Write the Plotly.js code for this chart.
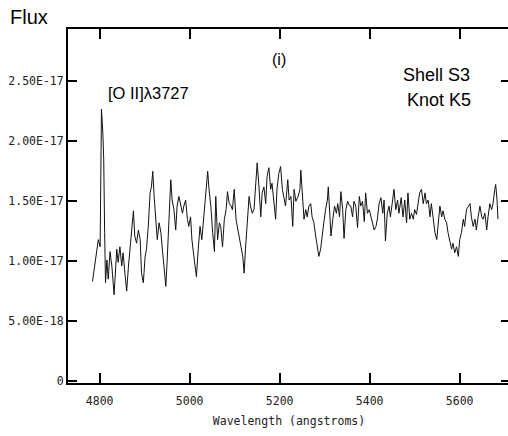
<!DOCTYPE html>
<html>
<head>
<meta charset="utf-8">
<script src="https://cdn.plot.ly/plotly-3.0.1.min.js"></script>
<style>html,body{margin:0;padding:0;overflow:hidden;background:#fff;}</style>
</head>
<body>
<div id="chart" style="width:510px;height:436px;"></div>
<script>
// Wavelength (angstroms)
const wavelength = [
4784,4788,4792,4797,4801,4804,4807,4809,4811,4813,4816,4819,4823,4827,4832,4838,4841,4845,4849,4852,
4856,4860,4864,4867,4871,4875,4878,4882,4886,4890,4893,4897,4901,4904,4908,4912,4915,4918,4921,4924,
4928,4932,4936,4940,4944,4947,4950,4954,4958,4961,4965,4969,4972,4976,4980,4984,4987,4991,4995,4998,
5002,5005,5009,5015,5019,5023,5027,5032,5036,5040,5043,5047,5051,5055,5058,5062,5066,5069,5073,5077,
5081,5084,5088,5092,5095,5099,5103,5107,5110,5114,5118,5121,5124,5128,5132,5135,5139,5143,5147,5150,
5154,5158,5161,5165,5169,5172,5176,5180,5183,5187,5191,5194,5198,5202,5206,5209,5213,5218,5221,5225,
5229,5232,5236,5241,5245,5247,5250,5254,5258,5261,5265,5269,5272,5276,5280,5283,5287,5291,5294,5298,
5302,5306,5308,5311,5314,5318,5322,5326,5329,5333,5336,5340,5343,5347,5351,5354,5358,5362,5365,5369,
5373,5377,5380,5384,5388,5391,5395,5399,5403,5406,5410,5414,5417,5421,5425,5429,5432,5435,5439,5443,
5446,5450,5454,5458,5462,5465,5470,5474,5478,5482,5485,5489,5493,5497,5500,5504,5508,5511,5515,5519,
5523,5526,5530,5534,5537,5541,5545,5549,5552,5556,5560,5563,5567,5571,5574,5578,5582,5585,5589,5593,
5597,5600,5604,5608,5611,5615,5619,5623,5626,5630,5634,5637,5641,5645,5649,5652,5656,5660,5663,5667,
5671,5674,5678,5680,5683,5685
];
// Flux in units of 1e-17
const fluxE17 = [
0.83,0.94,1.04,1.18,1.12,2.27,2.07,1.85,1.24,0.82,1.01,0.85,1.08,0.96,0.72,1.10,0.99,1.12,0.96,1.07,
0.90,0.75,0.96,1.07,1.24,1.42,1.21,1.15,1.26,1.18,0.90,0.82,1.04,1.10,1.29,1.57,1.62,1.75,1.54,1.35,
1.18,1.32,1.24,1.07,0.90,0.79,1.01,1.37,1.68,1.51,1.43,1.26,1.46,1.54,1.48,1.40,1.46,1.51,1.35,1.29,
1.37,1.18,1.05,0.87,1.10,1.29,1.18,1.40,1.54,1.75,1.60,1.46,1.24,1.08,1.54,1.18,1.32,1.29,1.12,1.35,
1.43,1.58,1.48,1.46,1.43,1.60,1.35,1.26,1.18,1.12,1.04,0.90,1.10,1.32,1.54,1.46,1.40,1.43,1.64,1.82,
1.62,1.37,1.57,1.62,1.48,1.71,1.78,1.60,1.65,1.51,1.35,1.60,1.73,1.79,1.60,1.54,1.46,1.68,1.51,1.54,
1.29,1.60,1.50,1.54,1.60,1.76,1.57,1.35,1.43,1.37,1.46,1.48,1.37,1.32,1.21,1.15,1.04,1.10,1.21,1.32,
1.43,1.51,1.62,1.37,1.21,1.35,1.46,1.40,1.48,1.37,1.58,1.43,1.19,1.43,1.50,1.47,1.46,1.37,1.50,1.46,
1.28,1.54,1.46,1.50,1.33,1.57,1.40,1.43,1.37,1.32,1.26,1.29,1.35,1.48,1.53,1.40,1.51,1.17,1.40,1.46,
1.37,1.48,1.60,1.43,1.51,1.40,1.53,1.37,1.51,1.32,1.57,1.35,1.40,1.35,1.43,1.39,1.48,1.57,1.60,1.48,
1.57,1.48,1.51,1.37,1.48,1.37,1.24,1.18,1.32,1.46,1.37,1.42,1.35,1.32,1.24,1.18,1.10,1.15,1.07,1.12,
1.04,1.18,1.24,1.35,1.29,1.43,1.46,1.48,1.37,1.29,1.35,1.26,1.37,1.46,1.37,1.35,1.40,1.26,1.37,1.48,
1.43,1.48,1.60,1.64,1.51,1.35
];
const flux = fluxE17.map(v => v * 1e-17);

const xTickVals = [4800, 5000, 5200, 5400, 5600];
const yTickVals = [0, 5e-18, 1e-17, 1.5e-17, 2e-17, 2.5e-17];
const yTickText = ["0", "5.00E-18", "1.00E-17", "1.50E-17", "2.00E-17", "2.50E-17"];

const monoFont = {family: "DejaVu Sans Mono, monospace", size: 11.5, color: "#222"};
const sansFont = "Liberation Sans, Arial, sans-serif";

const trace = {
  x: wavelength, y: flux, type: "scatter", mode: "lines",
  line: {color: "#111", width: 1}, hoverinfo: "skip"
};

const layout = {
  width: 510, height: 436,
  margin: {l: 68, r: 0, t: 29, b: 52.5},
  paper_bgcolor: "#fff", plot_bgcolor: "#fff",
  showlegend: false,
  xaxis: {
    range: [4729.6, 5711.8], tickvals: xTickVals, ticktext: xTickVals.map(String),
    ticks: "inside", ticklen: 10, tickwidth: 2, tickcolor: "#000",
    showline: true, linecolor: "#000", linewidth: 2, mirror: "ticks",
    showgrid: false, zeroline: false, tickfont: monoFont, ticklabelstandoff: 6,
    title: {text: "Wavelength (angstroms)", font: monoFont, standoff: 10}
  },
  yaxis: {
    range: [-0.0167e-17, 2.9375e-17], tickvals: yTickVals, ticktext: yTickText,
    ticks: "inside", ticklen: 9, tickwidth: 2, tickcolor: "#000",
    showline: true, linecolor: "#000", linewidth: 2, mirror: "ticks",
    showgrid: false, zeroline: false, tickfont: monoFont
  },
  annotations: [
    {text: "Flux", xref: "paper", yref: "paper", x: -0.1357, y: 1.0339,
     xanchor: "left", yanchor: "middle", showarrow: false,
     font: {family: sansFont, size: 20, color: "#000"}},
    {text: "[O II]λ3727", xref: "paper", yref: "paper", x: 0.1826, y: 0.8186,
     xanchor: "center", yanchor: "middle", showarrow: false,
     font: {family: sansFont, size: 16.5, color: "#000"}},
    {text: "(i)", xref: "paper", yref: "paper", x: 0.478, y: 0.9125,
     xanchor: "center", yanchor: "middle", showarrow: false,
     font: {family: sansFont, size: 16, color: "#000"}},
    {text: "Shell S3", xref: "paper", yref: "paper", x: (436.5 - 68) / 442, y: (383.5 - 75) / 354.5,
     xanchor: "center", yanchor: "middle", showarrow: false,
     font: {family: sansFont, size: 18, color: "#000"}},
    {text: "Knot K5", xref: "paper", yref: "paper", x: (438.8 - 68) / 442, y: (383.5 - 100) / 354.5,
     xanchor: "center", yanchor: "middle", showarrow: false,
     font: {family: sansFont, size: 18, color: "#000"}}
  ]
};

Plotly.newPlot("chart", [trace], layout, {displayModeBar: false, staticPlot: true});
</script>
</body>
</html>
